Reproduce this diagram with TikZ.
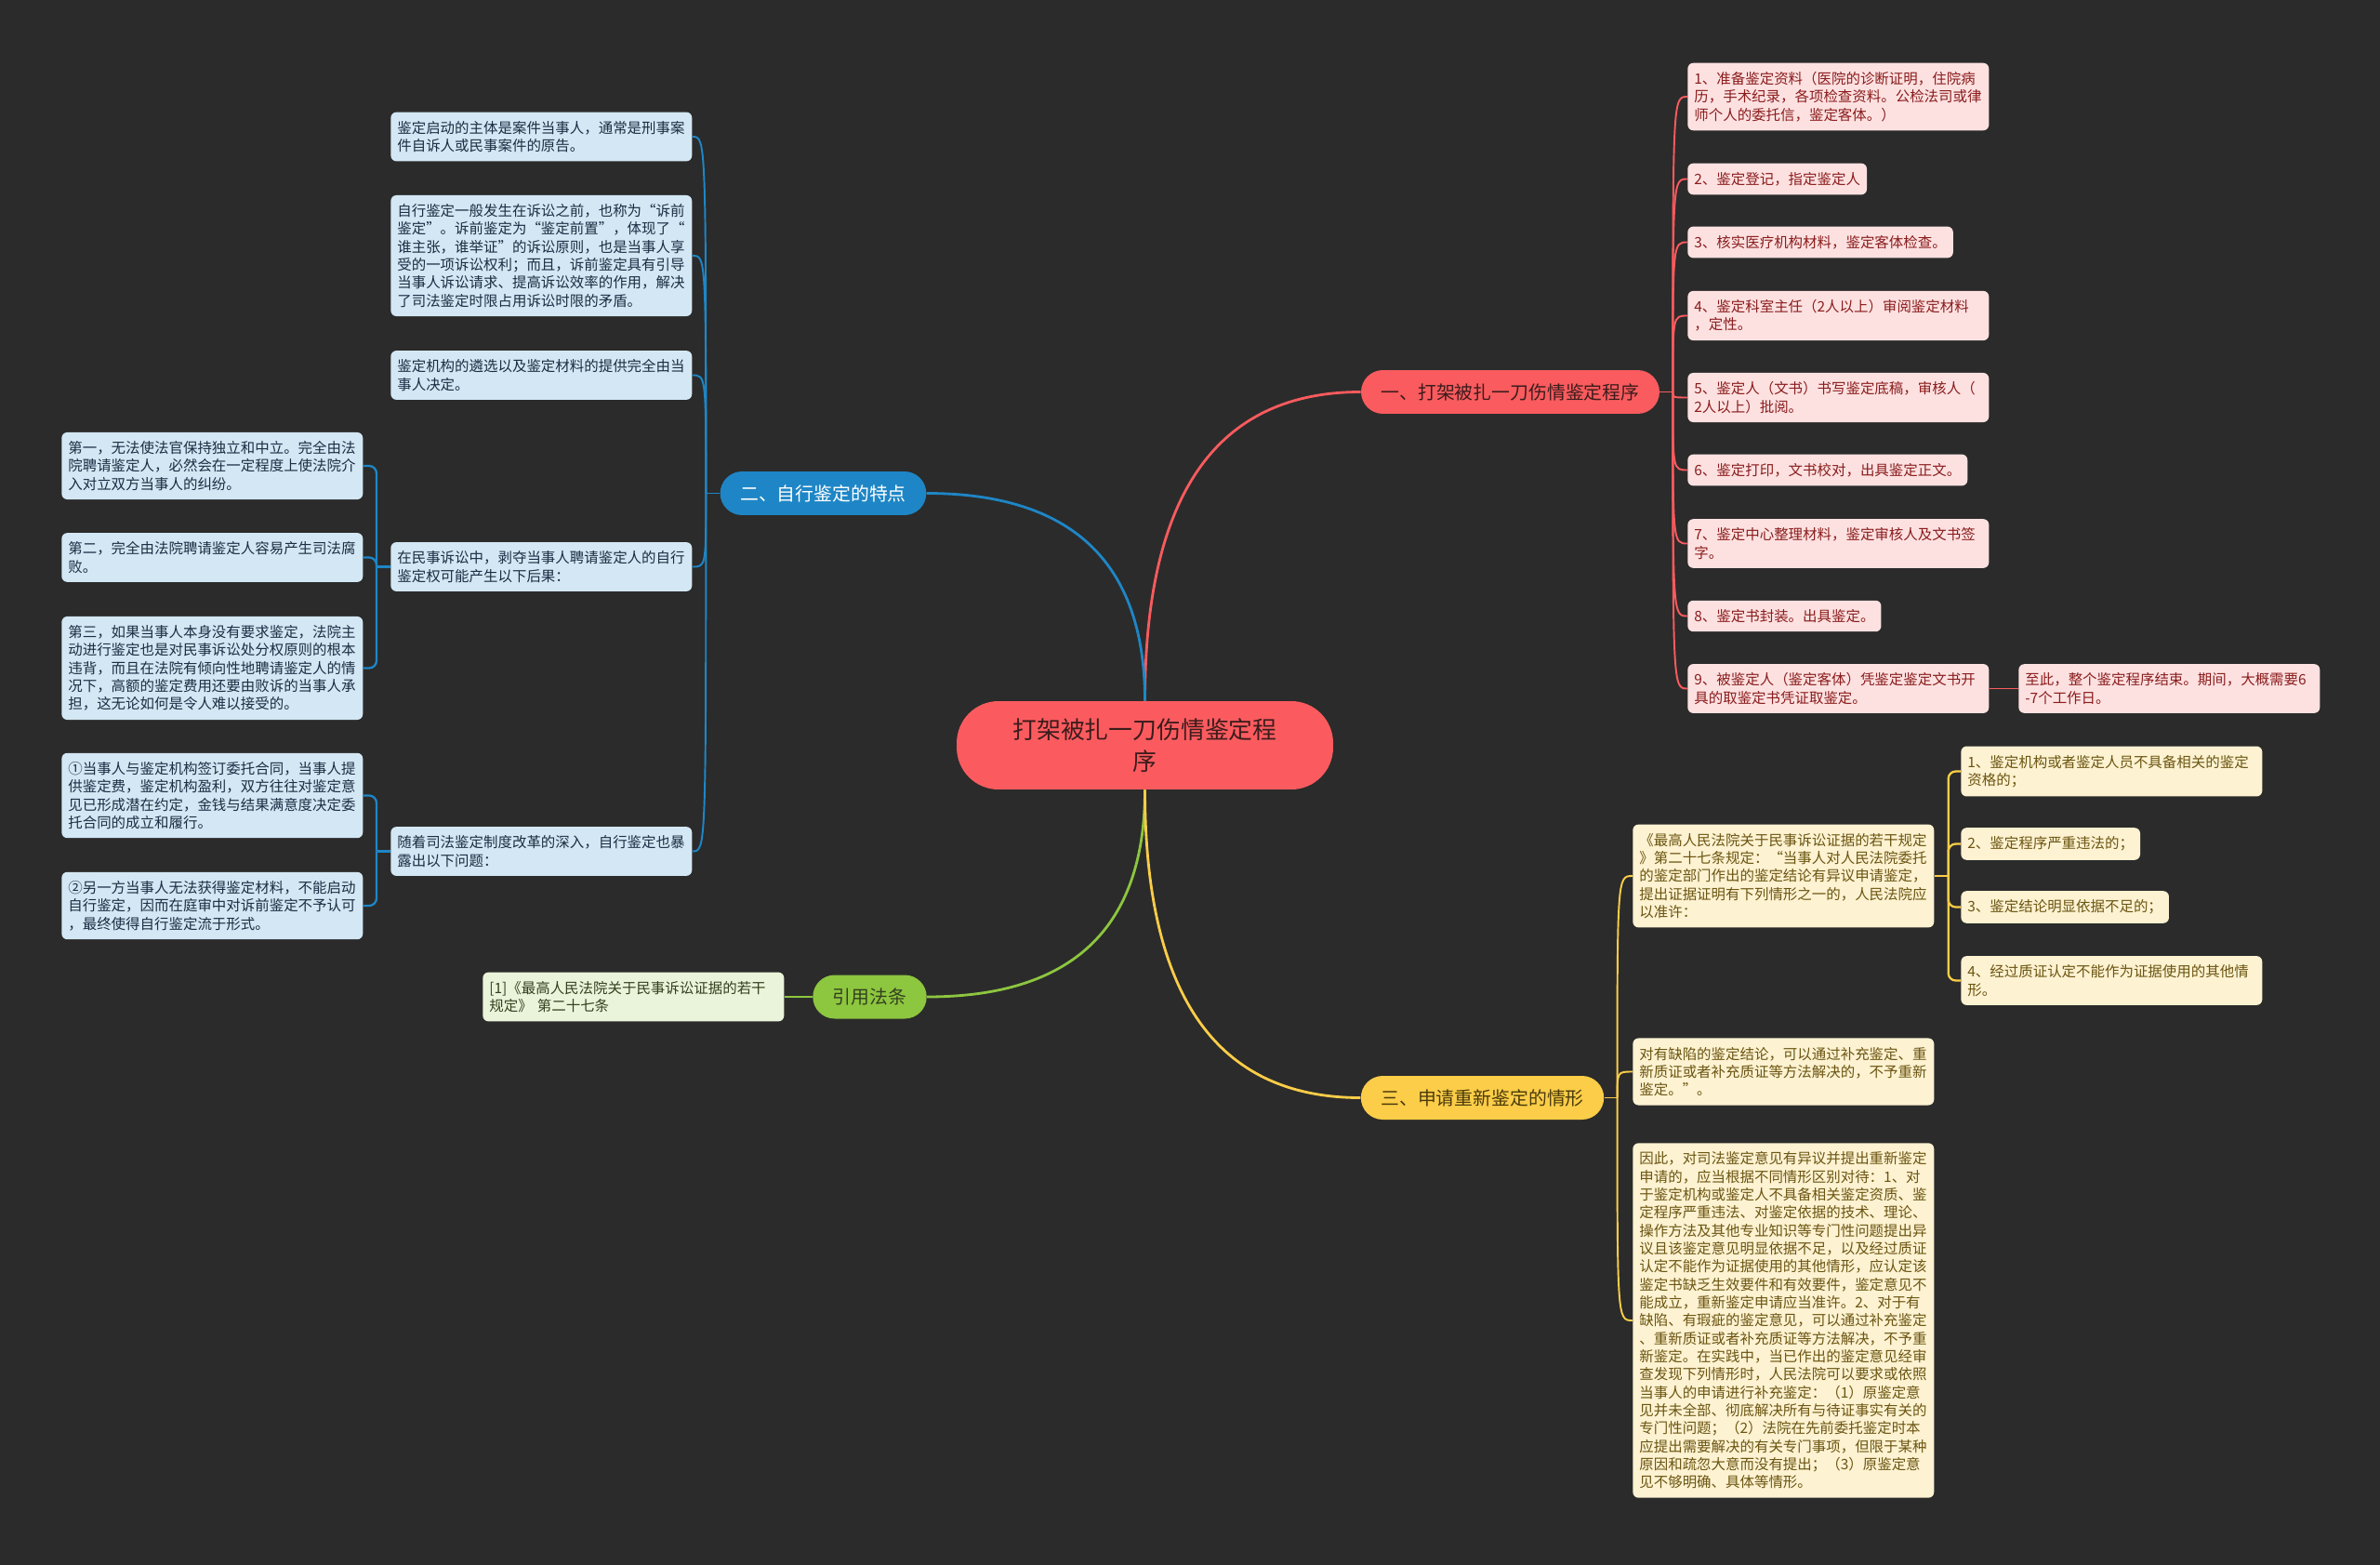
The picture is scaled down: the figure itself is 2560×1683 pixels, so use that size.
\documentclass[tikz,border=0pt]{standalone}
\usepackage{fontspec}
\setmainfont{Noto Sans CJK SC}
\usepackage{tikz}
\usetikzlibrary{positioning}
\definecolor{bgc}{HTML}{2B2B2B}
\definecolor{rootc}{HTML}{FB5B5F}
\definecolor{roott}{HTML}{3C1C1C}
\definecolor{redm}{HTML}{F95B5E}
\definecolor{redl}{HTML}{FDE1E1}
\definecolor{redt}{HTML}{8A1C1C}
\definecolor{bluem}{HTML}{1E86C6}
\definecolor{bluel}{HTML}{D3E7F4}
\definecolor{bluet}{HTML}{1A2E44}
\definecolor{greenm}{HTML}{8DC63F}
\definecolor{greenl}{HTML}{EAF4DA}
\definecolor{greent}{HTML}{33401F}
\definecolor{yelm}{HTML}{FBCD48}
\definecolor{yell}{HTML}{FDF2D1}
\definecolor{yelt}{HTML}{6B5512}
\tikzset{leaf/.style={anchor=west,rounded corners=0.12cm,inner xsep=0.14cm,inner ysep=0.19cm,align=left,font=\fontsize{8.8pt}{11pt}\selectfont},
  wide/.style={text width=6.2cm},
  bleaf/.style={leaf,wide,fill=bluel,text=bluet},
  rleaf/.style={leaf,fill=redl,text=redt},
  gleaf/.style={leaf,wide,fill=greenl,text=greent},
  yleaf/.style={leaf,fill=yell,text=yelt},
  branch/.style={rounded corners=0.47cm,minimum height=0.94cm,inner xsep=0.43cm,inner ysep=0pt,font=\fontsize{11.3pt}{13pt}\selectfont},
  link/.style={line width=1.6pt},
  twig/.style={line width=1.1pt},
  brace/.style={line width=1.3pt,rounded corners=0.16cm}}

\begin{document}
\begin{tikzpicture}[x=0.02cm,y=-0.02cm,line join=round]
\fill[bgc] (0,0) rectangle (2560,1683);
% --- centre and main branches
\node[fill=rootc,text=roott,rounded corners=0.9cm,minimum width=8.1cm,minimum height=1.9cm,align=center,font=\fontsize{14.7pt}{19.3pt}\selectfont] (root) at (1231.5,801.5) {打架被扎一刀伤情鉴定程\\序};
\node[branch,fill=redm,text=roott] (b1) at (1624.5,421.5) {一、打架被扎一刀伤情鉴定程序};
\node[branch,fill=bluem,text=white] (b2) at (885.5,530.5) {二、自行鉴定的特点};
\node[branch,fill=greenm,text=greent] (b3) at (935.5,1072) {引用法条};
\node[branch,fill=yelm,text=yelt!70!black] (b4) at (1594.5,1180.5) {三、申请重新鉴定的情形};
\draw[link,redm] (root.north) .. controls +(0,-222) and +(-155,0) .. (b1.west);
\draw[link,bluem] (root.north) .. controls +(0,-150) and +(155,0) .. (b2.east);
\draw[link,greenm] (root.south) .. controls +(0,150) and +(155,0) .. (b3.east);
\draw[link,yelm] (root.south) .. controls +(0,221) and +(-155,0) .. (b4.west);

% --- 一: procedure steps
\node[rleaf,wide] (r1) at (1815,104) {1、准备鉴定资料（医院的诊断证明，住院病\\历，手术纪录，各项检查资料。公检法司或律\\师个人的委托信，鉴定客体。）};
\node[rleaf] (r2) at (1815,192.5) {2、鉴定登记，指定鉴定人};
\node[rleaf] (r3) at (1815,260.5) {3、核实医疗机构材料，鉴定客体检查。};
\node[rleaf,wide] (r4) at (1815,339.5) {4、鉴定科室主任（2人以上）审阅鉴定材料\\，定性。};
\node[rleaf,wide] (r5) at (1815,427.5) {5、鉴定人（文书）书写鉴定底稿，审核人（\\2人以上）批阅。};
\node[rleaf] (r6) at (1815,505.5) {6、鉴定打印，文书校对，出具鉴定正文。};
\node[rleaf,wide] (r7) at (1815,584.5) {7、鉴定中心整理材料，鉴定审核人及文书签\\字。};
\node[rleaf] (r8) at (1815,662.5) {8、鉴定书封装。出具鉴定。};
\node[rleaf,wide] (r9) at (1815,740.5) {9、被鉴定人（鉴定客体）凭鉴定鉴定文书开\\具的取鉴定书凭证取鉴定。};
\node[rleaf,wide] (r10) at (2171,740.5) {至此，整个鉴定程序结束。期间，大概需要6\\-7个工作日。};
\draw[twig,redm] (b1.east) -- ++(14,0) coordinate (h1);
\foreach \i in {1,...,9} \draw[twig,redm] (h1) .. controls (h1 |- r\i.west) .. (r\i.west);
\draw[twig,redm] (r9.east) -- (r10.west);

% --- 二: features of self-appraisal
\node[bleaf] (l1) at (420,147) {鉴定启动的主体是案件当事人，通常是刑事案\\件自诉人或民事案件的原告。};
\node[bleaf] (l2) at (420,275) {自行鉴定一般发生在诉讼之前，也称为“诉前\\鉴定”。诉前鉴定为“鉴定前置”，体现了“\\谁主张，谁举证”的诉讼原则，也是当事人享\\受的一项诉讼权利；而且，诉前鉴定具有引导\\当事人诉讼请求、提高诉讼效率的作用，解决\\了司法鉴定时限占用诉讼时限的矛盾。};
\node[bleaf] (l3) at (420,403.5) {鉴定机构的遴选以及鉴定材料的提供完全由当\\事人决定。};
\node[bleaf] (l4) at (420,609.5) {在民事诉讼中，剥夺当事人聘请鉴定人的自行\\鉴定权可能产生以下后果：};
\node[bleaf] (l5) at (420,915.5) {随着司法鉴定制度改革的深入，自行鉴定也暴\\露出以下问题：};
\node[bleaf] (f1) at (66,501) {第一，无法使法官保持独立和中立。完全由法\\院聘请鉴定人，必然会在一定程度上使法院介\\入对立双方当事人的纠纷。};
\node[bleaf] (f2) at (66,599.5) {第二，完全由法院聘请鉴定人容易产生司法腐\\败。};
\node[bleaf] (f3) at (66,718.5) {第三，如果当事人本身没有要求鉴定，法院主\\动进行鉴定也是对民事诉讼处分权原则的根本\\违背，而且在法院有倾向性地聘请鉴定人的情\\况下，高额的鉴定费用还要由败诉的当事人承\\担，这无论如何是令人难以接受的。};
\node[bleaf] (f4) at (66,855.5) {①当事人与鉴定机构签订委托合同，当事人提\\供鉴定费，鉴定机构盈利，双方往往对鉴定意\\见已形成潜在约定，金钱与结果满意度决定委\\托合同的成立和履行。};
\node[bleaf] (f5) at (66,974) {②另一方当事人无法获得鉴定材料，不能启动\\自行鉴定，因而在庭审中对诉前鉴定不予认可\\，最终使得自行鉴定流于形式。};
\draw[twig,bluem] (b2.west) -- ++(-15,0) coordinate (h2);
\foreach \i in {1,...,5} \draw[twig,bluem] (h2) .. controls (h2 |- l\i.east) .. (l\i.east);
\draw[brace,bluem] (l4.west) -- ++(-15,0) coordinate (k4);
\foreach \i in {1,2,3} \draw[brace,bluem] (k4) |- (f\i.east);
\draw[brace,bluem] (l5.west) -- ++(-15,0) coordinate (k5);
\foreach \i in {4,5} \draw[brace,bluem] (k5) |- (f\i.east);

% --- cited article
\node[gleaf] (g1) at (519,1072) {[1]《最高人民法院关于民事诉讼证据的若干\\规定》 第二十七条};
\draw[link,greenm] (b3.west) -- (g1.east);

% --- 三: re-appraisal
\node[yleaf,wide] (y1) at (1756,942) {《最高人民法院关于民事诉讼证据的若干规定\\》第二十七条规定：“当事人对人民法院委托\\的鉴定部门作出的鉴定结论有异议申请鉴定，\\提出证据证明有下列情形之一的，人民法院应\\以准许：};
\node[yleaf,wide] (y2) at (1756,1152.5) {对有缺陷的鉴定结论，可以通过补充鉴定、重\\新质证或者补充质证等方法解决的，不予重新\\鉴定。”。};
\node[yleaf,wide] (y3) at (1756,1420) {因此，对司法鉴定意见有异议并提出重新鉴定\\申请的，应当根据不同情形区别对待：1、对\\于鉴定机构或鉴定人不具备相关鉴定资质、鉴\\定程序严重违法、对鉴定依据的技术、理论、\\操作方法及其他专业知识等专门性问题提出异\\议且该鉴定意见明显依据不足，以及经过质证\\认定不能作为证据使用的其他情形，应认定该\\鉴定书缺乏生效要件和有效要件，鉴定意见不\\能成立，重新鉴定申请应当准许。2、对于有\\缺陷、有瑕疵的鉴定意见，可以通过补充鉴定\\、重新质证或者补充质证等方法解决，不予重\\新鉴定。在实践中，当已作出的鉴定意见经审\\查发现下列情形时，人民法院可以要求或依照\\当事人的申请进行补充鉴定：（1）原鉴定意\\见并未全部、彻底解决所有与待证事实有关的\\专门性问题；（2）法院在先前委托鉴定时本\\应提出需要解决的有关专门事项，但限于某种\\原因和疏忽大意而没有提出；（3）原鉴定意\\见不够明确、具体等情形。};
\node[yleaf,wide] (s1) at (2109,829.5) {1、鉴定机构或者鉴定人员不具备相关的鉴定\\资格的；};
\node[yleaf] (s2) at (2109,907.5) {2、鉴定程序严重违法的；};
\node[yleaf] (s3) at (2109,975.5) {3、鉴定结论明显依据不足的；};
\node[yleaf,wide] (s4) at (2109,1054.5) {4、经过质证认定不能作为证据使用的其他情\\形。};
\draw[twig,yelm] (b4.east) -- ++(14,0) coordinate (h4);
\foreach \i in {1,2,3} \draw[twig,yelm] (h4) .. controls (h4 |- y\i.west) .. (y\i.west);
\draw[brace,yelm] (y1.east) -- ++(15,0) coordinate (k6);
\foreach \i in {1,...,4} \draw[brace,yelm] (k6) |- (s\i.west);
\end{tikzpicture}
\end{document}
